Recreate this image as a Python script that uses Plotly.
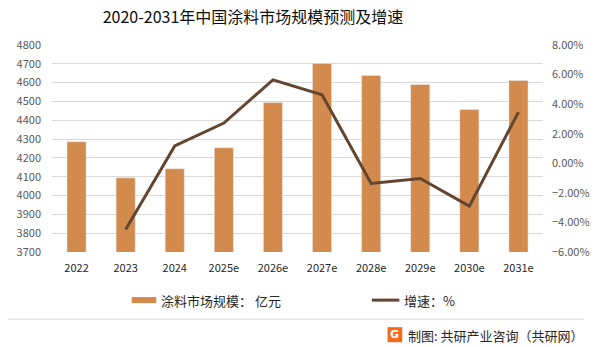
import plotly.graph_objects as go

years = ["2022", "2023", "2024", "2025e", "2026e", "2027e", "2028e", "2029e", "2030e", "2031e"]
market_size = [4286, 4094, 4142, 4254, 4494, 4702, 4638, 4590, 4457, 4611]
growth_years = ["2023", "2024", "2025e", "2026e", "2027e", "2028e", "2029e", "2030e", "2031e"]
growth_pct = [-4.48, 1.17, 2.72, 5.64, 4.63, -1.36, -1.03, -2.90, 3.46]

BAR_C = "#d38b4d"
LINE_C = "#634530"
FONT = "Noto Sans CJK SC"
W, H = 602, 347

fig = go.Figure()
fig.add_trace(go.Bar(x=years, y=market_size, marker_color=BAR_C, name="涂料市场规模： 亿元",
                     yaxis="y", showlegend=False))
fig.add_trace(go.Scatter(x=growth_years, y=[g / 100 for g in growth_pct], mode="lines",
                         line=dict(color=LINE_C, width=3), name="增速：%", yaxis="y2",
                         showlegend=False))

fig.update_layout(
    width=W, height=H,
    margin=dict(l=52, r=51, t=45, b=95),
    paper_bgcolor="white", plot_bgcolor="white",
    bargap=0.61,
    font=dict(family=FONT, size=11, color="#595959"),
    title=dict(text="2020-2031年中国涂料市场规模预测及增速", x=253 / W, xanchor="center",
               y=1 - 17 / H, yanchor="middle", font=dict(family=FONT, size=16, color="#0d0d0d")),
    xaxis=dict(showgrid=False, showline=False, ticks="", tickfont=dict(color="#262626", size=11),
               ticklabelstandoff=8),
    yaxis=dict(range=[3700, 4800], dtick=100, showgrid=True, gridcolor="#d9d9d9", gridwidth=1,
               zeroline=False, showline=False, ticks="", ticklabelstandoff=10,
               tickfont=dict(color="#595959", size=11)),
    yaxis2=dict(range=[-0.06, 0.08], dtick=0.02, tickformat=".2%", overlaying="y", side="right",
                showgrid=False, zeroline=False, showline=False, ticks="", ticklabelstandoff=8,
                tickfont=dict(color="#595959", size=11)),
)

shapes = []
annotations = []
# legend (manual)
shapes.append(dict(type="rect", xref="paper", yref="paper",
                   x0=(133 - 52) / 499, x1=(158 - 52) / 499,
                   y0=(252 - 303) / 206.5, y1=(252 - 297) / 206.5,
                   fillcolor=BAR_C, line=dict(width=0)))
annotations.append(dict(text="涂料市场规模： 亿元", xref="paper", yref="paper",
                        x=(161 - 52) / 499, y=(252 - 300) / 206.5, xanchor="left", yanchor="middle",
                        showarrow=False, font=dict(family=FONT, size=13, color="#262626")))
shapes.append(dict(type="line", xref="paper", yref="paper",
                   x0=(377 - 52) / 499, x1=(405 - 52) / 499,
                   y0=(252 - 300) / 206.5, y1=(252 - 300) / 206.5,
                   line=dict(color=LINE_C, width=3)))
annotations.append(dict(text="增速：%", xref="paper", yref="paper",
                        x=(408 - 52) / 499, y=(252 - 300) / 206.5, xanchor="left", yanchor="middle",
                        showarrow=False, font=dict(family=FONT, size=13, color="#262626")))
# separator line
shapes.append(dict(type="line", xref="paper", yref="paper",
                   x0=(8 - 52) / 499, x1=(592 - 52) / 499,
                   y0=(252 - 319) / 206.5, y1=(252 - 319) / 206.5,
                   line=dict(color="#d9d9d9", width=1)))
# footer logo
shapes.append(dict(type="rect", xref="paper", yref="paper",
                   x0=(393 - 52) / 499, x1=(408 - 52) / 499,
                   y0=(252 - 342) / 206.5, y1=(252 - 327) / 206.5,
                   fillcolor="#f26b1d", line=dict(width=0)))
annotations.append(dict(text="<b>G</b>", xref="paper", yref="paper",
                        x=(400.5 - 52) / 499, y=(252 - 334.5) / 206.5, xanchor="center", yanchor="middle",
                        showarrow=False, font=dict(family="DejaVu Sans", size=11, color="white")))
annotations.append(dict(text="制图: 共研产业咨询（共研网）", xref="paper", yref="paper",
                        x=(412 - 52) / 499, y=(252 - 335) / 206.5, xanchor="left", yanchor="middle",
                        showarrow=False, font=dict(family=FONT, size=13, color="#262626")))

fig.update_layout(shapes=shapes, annotations=annotations)
fig.write_html("out.html")
